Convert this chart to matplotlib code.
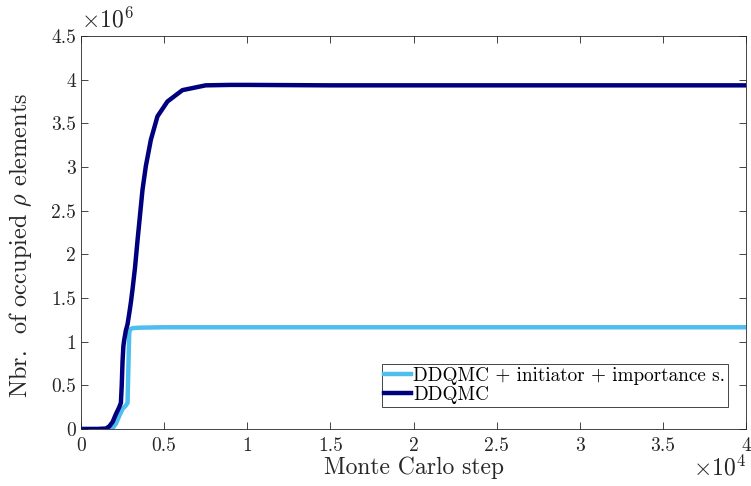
import matplotlib
matplotlib.use('Agg')
import matplotlib.pyplot as plt
import numpy as np

# Datos (pasos MC, elementos ocupados en millones)
pasos_full = [0, 500, 1000, 1500, 1700, 1900, 2100, 2300, 2400, 2450, 2500, 2550, 2600,
              2700, 2800, 2900, 3000, 3100, 3250, 3400, 3550, 3700, 3900, 4200, 4600,
              5200, 6100, 7500, 9000, 10000, 15000, 20000, 25000, 30000, 35000, 40000]
ddqmc = [0, 0, 0, 0.005, 0.03, 0.08, 0.17, 0.25, 0.30, 0.5, 0.78, 0.95, 1.02,
         1.13, 1.2, 1.32, 1.45, 1.6, 1.85, 2.16, 2.45, 2.74, 3.01, 3.31, 3.58,
         3.75, 3.88, 3.935, 3.94, 3.94, 3.935, 3.935, 3.935, 3.935, 3.935, 3.935]

pasos_init = [0, 1500, 1900, 2100, 2300, 2500, 2700, 2800, 2850, 2900, 2950, 3100,
              3500, 5000, 10000, 20000, 30000, 40000]
ddqmc_init = [0, 0, 0.01, 0.06, 0.15, 0.23, 0.27, 0.3, 0.7, 1.1, 1.14, 1.155,
              1.16, 1.165, 1.165, 1.165, 1.165, 1.165]

xticks = [0, 5000, 10000, 15000, 20000, 25000, 30000, 35000, 40000]
xticklabels = ['0', '0.5', '1', '1.5', '2', '2.5', '3', '3.5', '4']
yticks = [0, 0.5e6, 1e6, 1.5e6, 2e6, 2.5e6, 3e6, 3.5e6, 4e6, 4.5e6]
yticklabels = ['0', '0.5', '1', '1.5', '2', '2.5', '3', '3.5', '4', '4.5']

# fonte tipo LaTeX (Computer Modern) como na figura original
plt.rcParams['font.family'] = ['cmr10', 'DejaVu Serif']
plt.rcParams['mathtext.fontset'] = 'cm'
plt.rcParams['axes.unicode_minus'] = False

cinza = '#262626'

fig = plt.figure(figsize=(7.51, 4.86), dpi=100)
ax = fig.add_axes([81 / 751, 1 - 429 / 486, 665 / 751, 393 / 486])

ax.plot(pasos_init, np.array(ddqmc_init) * 1e6, color='#4DBEEE', lw=3.2,
        label='DDQMC + initiator + importance s.')
ax.plot(pasos_full, np.array(ddqmc) * 1e6, color='#00007F', lw=3.2, label='DDQMC')

ax.set_xlim(0, 40000)
ax.set_ylim(0, 4.5e6)
ax.set_xticks(xticks)
ax.set_xticklabels(xticklabels)
ax.set_yticks(yticks)
ax.set_yticklabels(yticklabels)
ax.tick_params(direction='in', length=5, width=0.6, colors=cinza, labelsize=14,
               top=True, right=True)
ax.tick_params(axis='x', pad=6)
for s in ax.spines.values():
    s.set_color(cinza)
    s.set_linewidth(0.6)

ax.set_xlabel('Monte Carlo step', fontsize=17, color=cinza, labelpad=1)
ax.set_ylabel(r'Nbr.  of occupied $\rho$ elements', fontsize=17.5, color=cinza)
ax.yaxis.set_label_coords(-0.071, 0.466)

ax.text(0, 1.01, r'$\times10^{6}$', transform=ax.transAxes, fontsize=17,
        color=cinza, ha='left', va='bottom')
ax.text(1.0, -0.068, r'$\times10^{4}$', transform=ax.transAxes, fontsize=17,
        color=cinza, ha='right', va='top')

leg = ax.legend(loc='lower right', bbox_to_anchor=(0.973, 0.056), borderaxespad=0,
                fontsize=13.8, fancybox=False, edgecolor=cinza, framealpha=1,
                handlelength=1.4, handletextpad=0.1, borderpad=0.15, labelspacing=0.05)
leg.get_frame().set_linewidth(0.6)

fig.savefig('out.png', dpi=100)
